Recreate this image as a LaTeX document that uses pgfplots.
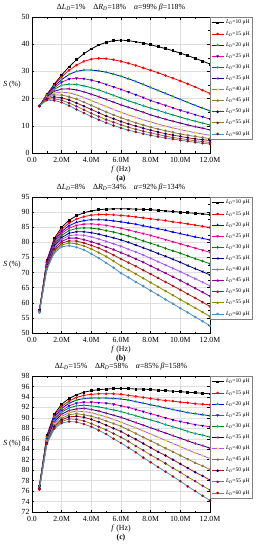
\documentclass[border=0pt]{standalone}
\usepackage{fontspec}
\setmainfont{Liberation Serif}
\usepackage{pgfplots}
\pgfplotsset{compat=1.18}
\definecolor{cnavy}{HTML}{000080}
\definecolor{cgreen}{HTML}{008000}
\definecolor{cbgreen}{HTML}{00C000}
\definecolor{cviolet}{HTML}{A855FF}
\definecolor{cyel}{HTML}{F0E000}
\definecolor{cbrown}{HTML}{8C7A3C}
\definecolor{cwine}{HTML}{B01818}
\definecolor{colive}{HTML}{8A8A00}
\definecolor{cpurple}{HTML}{900090}
\definecolor{csteel}{HTML}{4A90C8}
\definecolor{cdred}{HTML}{C00000}
\newcommand{\LD}[1]{\textit{L}\textsubscript{\textit{D}}=#1 μH}
\pgfplotsset{
  panel/.style={
    scale only axis, width=178pt, height=136pt,
    xmin=0, xmax=12,
    xtick={0,2,4,6,8,10,12},
    xticklabels={0.0,2.0M,4.0M,6.0M,8.0M,10.0M,12.0M},
    minor x tick num=1,
    tick align=inside, tick pos=both,
    major tick length=2.5pt, minor tick length=1.5pt,
    grid=major, major grid style={gray!25, line width=0.5pt},
    axis line style={black, line width=0.6pt},
    tick style={black, line width=0.5pt},
    /pgf/number format/assume math mode=true,
    tick label style={font=\fontsize{7.8}{8}\selectfont},
    xticklabel style={yshift=-0.5pt},
    yticklabel style={xshift=1pt},
    ylabel={\textit{S} (\%)},
    ylabel style={rotate=-90, font=\fontsize{7.8}{8}\selectfont, xshift=6pt},
    xlabel style={font=\fontsize{7.8}{8}\selectfont, align=center, yshift=3pt},
    title style={font=\fontsize{7.8}{8}\selectfont, yshift=-4pt},
    legend style={at={(1.0,1.0)}, anchor=north west, draw=gray, line width=0.5pt,
      font=\fontsize{5.6}{6.2}\selectfont, inner sep=1pt, row sep=1.9pt,
      cells={anchor=west}},
    legend image code/.code={
      \draw[mark repeat=2,mark phase=2,##1] plot coordinates {(0pt,0pt) (6pt,0pt) (12pt,0pt)};},
    every axis plot/.append style={line width=0.8pt, mark size=0.85pt},
  },
  s10/.style={black, mark=square*, mark options={fill=black}},
  s15/.style={red, mark=*, mark options={fill=red}},
  s20/.style={blue, mark=triangle*, mark options={draw=cbgreen, fill=cbgreen}},
  s25/.style={magenta, mark=triangle*, mark options={rotate=180, draw=blue, fill=blue}},
  s30/.style={cgreen, mark=diamond*, mark options={draw=cyan, fill=cyan}},
  s35/.style={cnavy, mark=triangle*, mark options={rotate=90, draw=magenta, fill=magenta}},
  s40/.style={cviolet, mark=triangle*, mark options={rotate=-90, draw=cyel, fill=cyel}},
  s45/.style={cbrown, mark=pentagon*, mark options={draw=cbrown, fill=cbrown}},
  s50/.style={cwine, mark=*, mark options={draw=cnavy, fill=cnavy}},
  s55/.style={colive, mark=*, mark options={draw=cpurple, fill=cpurple}},
  s60/.style={csteel, mark=*, mark options={draw=cdred, fill=cdred}},
  b10/.style={black, mark=square*, mark options={fill=black}},
  b15/.style={red, mark=*, mark options={fill=red}},
  b20/.style={blue, mark=triangle*, mark options={fill=blue}},
  b25/.style={magenta, mark=triangle*, mark options={rotate=180, fill=magenta}},
  b30/.style={cgreen, mark=diamond*, mark options={fill=cgreen}},
  b35/.style={cnavy, mark=triangle*, mark options={rotate=90, fill=cnavy}},
  b40/.style={cviolet, mark=triangle*, mark options={rotate=-90, fill=cviolet}},
  b45/.style={cpurple, mark=pentagon*, mark options={fill=cpurple}},
  b50/.style={cwine, mark=*, mark options={fill=cwine}},
  b55/.style={colive, mark=*, mark options={fill=colive}},
  b60/.style={csteel, mark=*, mark options={fill=csteel}},
}
\begin{document}
\begin{tikzpicture}
\path[use as bounding box] (-32pt,-38pt) rectangle (230pt,512pt);
% ---------------- (a)
\begin{axis}[panel, at={(0pt,359pt)}, anchor=south west,
  ymin=0, ymax=50, ytick={0,10,...,50}, minor y tick num=1,
  title={Δ\textit{L}\textsubscript{\textit{D}}=1\%\quad Δ\textit{R}\textsubscript{\textit{D}}=18\%\quad \textit{α}=99\% \textit{β}=118\%},
  xlabel={\textit{f} (Hz)\\[0.5pt]\textbf{(a)}}]
\addplot[s10] coordinates {(0.5,17.3)(1,21.5)(1.5,25.3)(2,28.7)(2.5,31.7)(3,34.3)(3.5,36.5)(4,38.3)(4.5,39.7)(5,40.7)(5.5,41.3)(6,41.5)(6.5,41.3)(7,40.9)(7.5,40.4)(8,39.8)(8.5,39.1)(9,38.4)(9.5,37.6)(10,36.7)(10.5,35.8)(11,34.8)(11.5,33.8)(12,32.7)};
\addplot[s15] coordinates {(0.5,17.3)(1,21.4)(1.5,25.0)(2,28.0)(2.5,30.4)(3,32.3)(3.5,33.7)(4,34.5)(4.5,34.8)(5,34.7)(5.5,34.3)(6,33.7)(6.5,33.0)(7,32.2)(7.5,31.3)(8,30.4)(8.5,29.5)(9,28.5)(9.5,27.5)(10,26.5)(10.5,25.4)(11,24.3)(11.5,23.1)(12,21.9)};
\addplot[s20] coordinates {(0.5,17.3)(1,21.2)(1.5,24.5)(2,27.0)(2.5,28.9)(3,30.0)(3.5,30.5)(4,30.5)(4.5,30.2)(5,29.7)(5.5,29.0)(6,28.2)(6.5,27.3)(7,26.3)(7.5,25.2)(8,24.1)(8.5,23.0)(9,21.9)(9.5,20.8)(10,19.7)(10.5,18.6)(11,17.5)(11.5,16.5)(12,15.5)};
\addplot[s25] coordinates {(0.5,17.3)(1,21.0)(1.5,24.0)(2,26.0)(2.5,27.2)(3,27.5)(3.5,27.3)(4,26.8)(4.5,26.1)(5,25.2)(5.5,24.3)(6,23.4)(6.5,22.4)(7,21.4)(7.5,20.4)(8,19.3)(8.5,18.4)(9,17.5)(9.5,16.6)(10,15.7)(10.5,14.9)(11,14.1)(11.5,13.3)(12,12.5)};
\addplot[s30] coordinates {(0.5,17.3)(1,20.8)(1.5,23.4)(2,24.9)(2.5,25.3)(3,25.2)(3.5,24.7)(4,24.0)(4.5,23.2)(5,22.2)(5.5,21.2)(6,20.2)(6.5,19.2)(7,18.3)(7.5,17.4)(8,16.5)(8.5,15.7)(9,14.8)(9.5,14.0)(10,13.2)(10.5,12.4)(11,11.7)(11.5,11.0)(12,10.3)};
\addplot[s35] coordinates {(0.5,17.3)(1,20.6)(1.5,22.7)(2,23.5)(2.5,23.6)(3,23.2)(3.5,22.5)(4,21.6)(4.5,20.7)(5,19.7)(5.5,18.7)(6,17.7)(6.5,16.8)(7,15.9)(7.5,15.0)(8,14.0)(8.5,13.2)(9,12.4)(9.5,11.7)(10,11.0)(10.5,10.3)(11,9.7)(11.5,9.1)(12,8.5)};
\addplot[s40] coordinates {(0.5,17.3)(1,20.4)(1.5,22.0)(2,22.4)(2.5,22.1)(3,21.4)(3.5,20.4)(4,19.3)(4.5,18.2)(5,17.1)(5.5,16.0)(6,15.0)(6.5,14.0)(7,13.1)(7.5,12.2)(8,11.4)(8.5,10.6)(9,9.9)(9.5,9.2)(10,8.6)(10.5,8.0)(11,7.5)(11.5,7.0)(12,6.5)};
\addplot[s45] coordinates {(0.5,17.3)(1,20.2)(1.5,21.3)(2,21.3)(2.5,20.7)(3,19.8)(3.5,18.7)(4,17.5)(4.5,16.3)(5,15.1)(5.5,14.0)(6,13.0)(6.5,12.0)(7,11.1)(7.5,10.3)(8,9.5)(8.5,8.8)(9,8.2)(9.5,7.6)(10,7.0)(10.5,6.5)(11,6.1)(11.5,5.7)(12,5.3)};
\addplot[s50] coordinates {(0.5,17.3)(1,19.9)(1.5,20.6)(2,20.3)(2.5,19.5)(3,18.4)(3.5,17.2)(4,16.0)(4.5,14.8)(5,13.6)(5.5,12.6)(6,11.6)(6.5,10.7)(7,9.9)(7.5,9.1)(8,8.4)(8.5,7.7)(9,7.1)(9.5,6.6)(10,6.1)(10.5,5.6)(11,5.2)(11.5,4.9)(12,4.6)};
\addplot[s55] coordinates {(0.5,17.3)(1,19.7)(1.5,19.9)(2,19.4)(2.5,18.4)(3,17.2)(3.5,15.9)(4,14.6)(4.5,13.4)(5,12.3)(5.5,11.3)(6,10.4)(6.5,9.5)(7,8.7)(7.5,8.0)(8,7.4)(8.5,6.8)(9,6.2)(9.5,5.7)(10,5.3)(10.5,4.9)(11,4.5)(11.5,4.2)(12,3.9)};
\addplot[s60] coordinates {(0.5,17.3)(1,19.4)(1.5,19.3)(2,18.6)(2.5,17.4)(3,16.0)(3.5,14.7)(4,13.4)(4.5,12.2)(5,11.1)(5.5,10.1)(6,9.2)(6.5,8.4)(7,7.7)(7.5,7.1)(8,6.5)(8.5,6.0)(9,5.5)(9.5,5.1)(10,4.7)(10.5,4.3)(11,3.9)(11.5,3.6)(12,3.3)};
\legend{\LD{10},\LD{15},\LD{20},\LD{25},\LD{30},\LD{35},\LD{40},\LD{45},\LD{50},\LD{55},\LD{60}}
\end{axis}
% ---------------- (b)
\begin{axis}[panel, at={(0pt,179pt)}, anchor=south west,
  ymin=50, ymax=95, ytick={50,55,...,95}, minor y tick num=1,
  title={Δ\textit{L}\textsubscript{\textit{D}}=8\%\quad Δ\textit{R}\textsubscript{\textit{D}}=34\%\quad \textit{α}=92\% \textit{β}=134\%},
  xlabel={\textit{f} (Hz)\\[0.5pt]\textbf{(b)}}]
\addplot[b10] coordinates {(0.5,57.5)(1,74.0)(1.5,81.3)(2,85.0)(2.5,87.3)(3,88.8)(3.5,89.8)(4,90.4)(4.5,90.8)(5,91.0)(5.5,91.1)(6,91.1)(6.5,91.1)(7,91.0)(7.5,90.9)(8,90.8)(8.5,90.6)(9,90.4)(9.5,90.2)(10,90.0)(10.5,89.8)(11,89.6)(11.5,89.4)(12,89.2)};
\addplot[b15] coordinates {(0.5,57.4)(1,73.7)(1.5,80.8)(2,84.3)(2.5,86.4)(3,87.7)(3.5,88.5)(4,89.0)(4.5,89.2)(5,89.2)(5.5,89.1)(6,88.9)(6.5,88.7)(7,88.4)(7.5,88.1)(8,87.8)(8.5,87.5)(9,87.2)(9.5,86.8)(10,86.5)(10.5,86.1)(11,85.7)(11.5,85.3)(12,84.9)};
\addplot[b20] coordinates {(0.5,57.4)(1,73.4)(1.5,80.3)(2,83.6)(2.5,85.5)(3,86.6)(3.5,87.2)(4,87.5)(4.5,87.5)(5,87.4)(5.5,87.1)(6,86.8)(6.5,86.4)(7,86.0)(7.5,85.5)(8,85.0)(8.5,84.5)(9,84.0)(9.5,83.4)(10,82.9)(10.5,82.3)(11,81.8)(11.5,81.3)(12,80.8)};
\addplot[b25] coordinates {(0.5,57.3)(1,73.1)(1.5,79.8)(2,83.0)(2.5,84.7)(3,85.6)(3.5,86.0)(4,86.1)(4.5,85.9)(5,85.6)(5.5,85.2)(6,84.7)(6.5,84.1)(7,83.5)(7.5,82.9)(8,82.3)(8.5,81.6)(9,80.9)(9.5,80.2)(10,79.5)(10.5,78.8)(11,78.1)(11.5,77.4)(12,76.7)};
\addplot[b30] coordinates {(0.5,57.3)(1,72.8)(1.5,79.3)(2,82.3)(2.5,83.9)(3,84.6)(3.5,84.8)(4,84.7)(4.5,84.4)(5,83.9)(5.5,83.4)(6,82.8)(6.5,82.1)(7,81.3)(7.5,80.5)(8,79.7)(8.5,78.9)(9,78.0)(9.5,77.2)(10,76.4)(10.5,75.5)(11,74.6)(11.5,73.8)(12,72.9)};
\addplot[b35] coordinates {(0.5,57.2)(1,72.5)(1.5,78.8)(2,81.6)(2.5,83.0)(3,83.5)(3.5,83.5)(4,83.2)(4.5,82.7)(5,82.1)(5.5,81.5)(6,80.8)(6.5,80.0)(7,79.1)(7.5,78.2)(8,77.3)(8.5,76.3)(9,75.4)(9.5,74.4)(10,73.4)(10.5,72.3)(11,71.3)(11.5,70.3)(12,69.2)};
\addplot[b40] coordinates {(0.5,57.2)(1,72.2)(1.5,78.3)(2,81.0)(2.5,82.2)(3,82.5)(3.5,82.3)(4,81.8)(4.5,81.1)(5,80.3)(5.5,79.5)(6,78.7)(6.5,77.7)(7,76.8)(7.5,75.8)(8,74.7)(8.5,73.6)(9,72.5)(9.5,71.4)(10,70.3)(10.5,69.1)(11,68.0)(11.5,66.8)(12,65.6)};
\addplot[b45] coordinates {(0.5,57.1)(1,71.9)(1.5,77.8)(2,80.3)(2.5,81.4)(3,81.4)(3.5,80.9)(4,80.2)(4.5,79.4)(5,78.5)(5.5,77.6)(6,76.6)(6.5,75.6)(7,74.5)(7.5,73.4)(8,72.2)(8.5,71.0)(9,69.8)(9.5,68.6)(10,67.4)(10.5,66.1)(11,64.8)(11.5,63.5)(12,62.2)};
\addplot[b50] coordinates {(0.5,57.0)(1,71.6)(1.5,77.3)(2,79.7)(2.5,80.5)(3,80.4)(3.5,79.8)(4,79.0)(4.5,78.1)(5,77.0)(5.5,75.8)(6,74.5)(6.5,73.3)(7,72.1)(7.5,70.8)(8,69.5)(8.5,68.2)(9,66.9)(9.5,65.6)(10,64.3)(10.5,62.9)(11,61.6)(11.5,60.2)(12,58.8)};
\addplot[b55] coordinates {(0.5,56.9)(1,71.3)(1.5,76.9)(2,79.1)(2.5,79.8)(3,79.5)(3.5,78.8)(4,77.8)(4.5,76.6)(5,75.3)(5.5,73.8)(6,72.2)(6.5,70.9)(7,69.5)(7.5,68.1)(8,66.7)(8.5,65.3)(9,63.9)(9.5,62.5)(10,61.1)(10.5,59.7)(11,58.3)(11.5,56.9)(12,55.5)};
\addplot[b60] coordinates {(0.5,56.8)(1,71.0)(1.5,76.5)(2,78.5)(2.5,78.9)(3,78.4)(3.5,77.5)(4,76.2)(4.5,74.8)(5,73.2)(5.5,71.6)(6,69.8)(6.5,68.4)(7,66.9)(7.5,65.5)(8,64.0)(8.5,62.6)(9,61.1)(9.5,59.7)(10,58.2)(10.5,56.8)(11,55.3)(11.5,53.9)(12,52.4)};
\legend{\LD{10},\LD{15},\LD{20},\LD{25},\LD{30},\LD{35},\LD{40},\LD{45},\LD{50},\LD{55},\LD{60}}
\end{axis}
% ---------------- (c)
\begin{axis}[panel, at={(0pt,0pt)}, anchor=south west,
  ymin=72, ymax=98, ytick={72,74,...,98},
  title={Δ\textit{L}\textsubscript{\textit{D}}=15\%\quad Δ\textit{R}\textsubscript{\textit{D}}=58\%\quad \textit{α}=85\% \textit{β}=158\%},
  xlabel={\textit{f} (Hz)\\[0.5pt]\textbf{(c)}}]
\addplot[s10] coordinates {(0.5,77.0)(1,86.6)(1.5,90.7)(2,92.6)(2.5,93.7)(3,94.4)(3.5,94.9)(4,95.2)(4.5,95.4)(5,95.5)(5.5,95.6)(6,95.6)(6.5,95.6)(7,95.5)(7.5,95.5)(8,95.4)(8.5,95.3)(9,95.2)(9.5,95.1)(10,95.0)(10.5,94.9)(11,94.8)(11.5,94.7)(12,94.6)};
\addplot[s15] coordinates {(0.5,76.9)(1,86.4)(1.5,90.4)(2,92.2)(2.5,93.2)(3,93.9)(3.5,94.3)(4,94.5)(4.5,94.6)(5,94.6)(5.5,94.6)(6,94.5)(6.5,94.3)(7,94.1)(7.5,93.9)(8,93.7)(8.5,93.5)(9,93.3)(9.5,93.2)(10,93.0)(10.5,92.9)(11,92.7)(11.5,92.6)(12,92.5)};
\addplot[s20] coordinates {(0.5,76.9)(1,86.2)(1.5,90.1)(2,91.8)(2.5,92.8)(3,93.4)(3.5,93.7)(4,93.8)(4.5,93.8)(5,93.8)(5.5,93.7)(6,93.6)(6.5,93.4)(7,93.1)(7.5,92.8)(8,92.5)(8.5,92.2)(9,91.9)(9.5,91.6)(10,91.3)(10.5,91.0)(11,90.8)(11.5,90.6)(12,90.4)};
\addplot[s25] coordinates {(0.5,76.8)(1,86.0)(1.5,89.8)(2,91.4)(2.5,92.3)(3,92.8)(3.5,93.0)(4,93.0)(4.5,92.9)(5,92.8)(5.5,92.6)(6,92.3)(6.5,92.0)(7,91.6)(7.5,91.2)(8,90.8)(8.5,90.4)(9,90.0)(9.5,89.6)(10,89.3)(10.5,89.0)(11,88.7)(11.5,88.5)(12,88.3)};
\addplot[s30] coordinates {(0.5,76.8)(1,85.8)(1.5,89.5)(2,91.1)(2.5,91.9)(3,92.3)(3.5,92.4)(4,92.3)(4.5,92.1)(5,91.8)(5.5,91.5)(6,91.2)(6.5,90.8)(7,90.4)(7.5,90.0)(8,89.6)(8.5,89.2)(9,88.7)(9.5,88.3)(10,87.9)(10.5,87.4)(11,87.0)(11.5,86.7)(12,86.3)};
\addplot[s35] coordinates {(0.5,76.7)(1,85.7)(1.5,89.2)(2,90.7)(2.5,91.4)(3,91.7)(3.5,91.8)(4,91.6)(4.5,91.3)(5,90.9)(5.5,90.5)(6,90.1)(6.5,89.6)(7,89.1)(7.5,88.6)(8,88.1)(8.5,87.6)(9,87.1)(9.5,86.6)(10,86.1)(10.5,85.6)(11,85.1)(11.5,84.7)(12,84.2)};
\addplot[s40] coordinates {(0.5,76.6)(1,85.5)(1.5,88.9)(2,90.3)(2.5,91.0)(3,91.3)(3.5,91.2)(4,91.0)(4.5,90.6)(5,90.2)(5.5,89.7)(6,89.2)(6.5,88.6)(7,88.1)(7.5,87.5)(8,86.9)(8.5,86.3)(9,85.7)(9.5,85.1)(10,84.5)(10.5,83.9)(11,83.3)(11.5,82.8)(12,82.2)};
\addplot[s45] coordinates {(0.5,76.6)(1,85.4)(1.5,88.6)(2,89.9)(2.5,90.6)(3,90.8)(3.5,90.6)(4,90.3)(4.5,89.9)(5,89.4)(5.5,88.9)(6,88.4)(6.5,87.7)(7,87.0)(7.5,86.3)(8,85.6)(8.5,84.9)(9,84.2)(9.5,83.5)(10,82.8)(10.5,82.1)(11,81.4)(11.5,80.8)(12,80.1)};
\addplot[s50] coordinates {(0.5,76.5)(1,85.2)(1.5,88.3)(2,89.6)(2.5,90.2)(3,90.3)(3.5,90.1)(4,89.7)(4.5,89.2)(5,88.6)(5.5,88.0)(6,87.4)(6.5,86.6)(7,85.9)(7.5,85.1)(8,84.3)(8.5,83.5)(9,82.8)(9.5,82.0)(10,81.2)(10.5,80.4)(11,79.6)(11.5,78.9)(12,78.1)};
\addplot[s55] coordinates {(0.5,76.4)(1,85.1)(1.5,88.1)(2,89.3)(2.5,89.8)(3,89.7)(3.5,89.4)(4,88.9)(4.5,88.3)(5,87.7)(5.5,87.0)(6,86.3)(6.5,85.5)(7,84.6)(7.5,83.8)(8,82.9)(8.5,82.1)(9,81.3)(9.5,80.4)(10,79.6)(10.5,78.7)(11,77.9)(11.5,77.0)(12,76.2)};
\addplot[s60] coordinates {(0.5,76.3)(1,85.0)(1.5,87.9)(2,89.0)(2.5,89.3)(3,89.2)(3.5,88.8)(4,88.3)(4.5,87.6)(5,86.9)(5.5,86.0)(6,85.2)(6.5,84.3)(7,83.4)(7.5,82.4)(8,81.5)(8.5,80.6)(9,79.7)(9.5,78.8)(10,77.9)(10.5,76.9)(11,76.0)(11.5,75.1)(12,74.2)};
\legend{\LD{10},\LD{15},\LD{20},\LD{25},\LD{30},\LD{35},\LD{40},\LD{45},\LD{50},\LD{55},\LD{60}}
\end{axis}
\end{tikzpicture}
\end{document}
